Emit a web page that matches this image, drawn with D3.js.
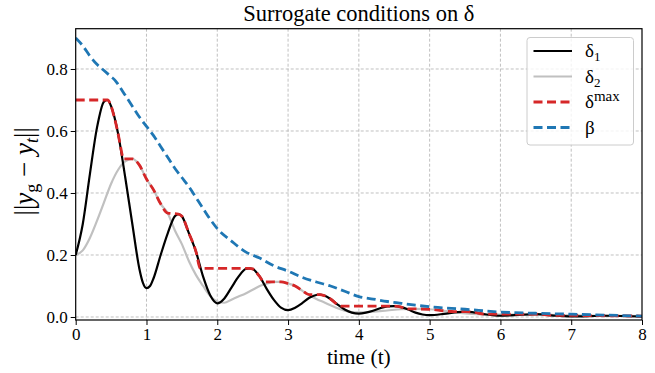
<!DOCTYPE html>
<html>
<head>
<meta charset="utf-8">
<script src="https://cdn.jsdelivr.net/npm/d3@7"></script>
<style>
  body { margin: 0; background: #fff; }
  svg { display: block; font-family: "Liberation Serif", "DejaVu Serif", serif; }
</style>
</head>
<body>
<svg id="chart" width="655" height="373"></svg>
<script>
// ---- data ----
const xTicks = [0, 1, 2, 3, 4, 5, 6, 7, 8];
const yTicks = [0.0, 0.2, 0.4, 0.6, 0.8];
const yTickLabels = ["0.0", "0.2", "0.4", "0.6", "0.8"];

const delta1T = [0,0.1,0.2,0.3,0.4,0.45,0.5,0.6,0.7,0.8,0.9,0.95,1.0,1.05,1.1,1.2,1.3,1.4,1.45,1.5,1.6,1.7,1.8,1.9,2.0,2.1,2.2,2.3,2.4,2.45,2.5,2.6,2.7,2.8,2.9,3.0,3.1,3.2,3.3,3.4,3.45,3.5,3.6,3.7,3.8,3.9,4.0,4.1,4.2,4.3,4.4,4.5,4.6,4.7,4.8,4.9,5.0,5.2,5.4,5.5,5.6,5.8,6.0,6.2,6.5,6.8,7.0,7.5,8.0];
const delta1V = [0.2,0.30,0.46,0.61,0.695,0.70,0.68,0.59,0.45,0.30,0.155,0.11,0.093,0.10,0.125,0.2,0.27,0.325,0.332,0.325,0.27,0.21,0.13,0.07,0.044,0.06,0.095,0.13,0.155,0.157,0.155,0.13,0.09,0.055,0.03,0.022,0.03,0.045,0.062,0.071,0.072,0.07,0.058,0.04,0.024,0.014,0.011,0.014,0.02,0.028,0.034,0.035,0.032,0.024,0.014,0.008,0.006,0.01,0.016,0.017,0.016,0.008,0.004,0.006,0.009,0.004,0.002,0.004,0.001];

const delta2T = [0,0.1,0.2,0.3,0.4,0.5,0.6,0.7,0.8,0.9,1.0,1.1,1.2,1.3,1.4,1.5,1.6,1.7,1.8,1.9,2.0,2.1,2.2,2.3,2.4,2.5,2.6,2.7,2.8,2.9,3.0,3.1,3.2,3.3,3.4,3.5,3.6,3.7,3.8,3.9,4.0,4.2,4.4,4.6,4.8,5.0,5.2,5.4,5.6,5.8,6.0,6.5,7.0,7.5,8.0];
const delta2V = [0.2,0.215,0.255,0.31,0.37,0.43,0.475,0.502,0.51,0.49,0.445,0.41,0.365,0.335,0.28,0.235,0.18,0.135,0.10,0.068,0.05,0.046,0.056,0.066,0.076,0.088,0.10,0.108,0.113,0.113,0.108,0.10,0.085,0.07,0.058,0.048,0.038,0.028,0.02,0.016,0.015,0.017,0.021,0.025,0.026,0.025,0.02,0.014,0.01,0.008,0.008,0.008,0.005,0.004,0.003];

const deltaMaxT = [0,0.43,0.45,0.5,0.55,0.6,0.65,0.67,0.8,0.9,1.0,1.1,1.2,1.3,1.45,1.5,1.6,1.7,1.76,2.45,2.5,2.6,2.66,2.85,2.9,3.0,3.1,3.2,3.3,3.45,3.5,3.6,3.7,3.75,4.5,4.6,4.65,4.8,5.0,5.2,5.35,5.5,5.6,5.8,6.5,6.8,7.0,7.5,8.0];
const deltaMaxV = [0.70,0.70,0.70,0.68,0.64,0.59,0.53,0.51,0.51,0.49,0.445,0.41,0.365,0.335,0.332,0.325,0.27,0.21,0.157,0.157,0.155,0.13,0.113,0.113,0.113,0.108,0.10,0.085,0.072,0.072,0.07,0.058,0.04,0.035,0.035,0.032,0.026,0.026,0.025,0.02,0.017,0.017,0.016,0.009,0.009,0.005,0.005,0.004,0.003];

const betaT = [0,0.1,0.2,0.3,0.4,0.5,0.55,0.6,0.7,0.8,0.9,1.0,1.1,1.2,1.3,1.4,1.5,1.6,1.7,1.8,1.9,2.0,2.2,2.4,2.6,2.8,3.0,3.2,3.4,3.6,3.8,4.0,4.2,4.4,4.6,4.8,5.0,5.5,6.0,6.5,7.0,7.5,8.0];
const betaV = [0.90,0.875,0.842,0.815,0.795,0.775,0.765,0.75,0.715,0.68,0.645,0.615,0.585,0.55,0.515,0.48,0.45,0.42,0.385,0.35,0.315,0.285,0.245,0.21,0.19,0.165,0.148,0.128,0.113,0.10,0.083,0.066,0.058,0.05,0.044,0.038,0.033,0.025,0.016,0.012,0.009,0.006,0.003];

const seriesNames = ["δ1", "δ2", "δmax", "β"];

// ---- layout ----
const svg = d3.select("#chart");
const L = 75.7, R = 642, T = 28.7, B = 320;
const x = d3.scaleLinear().domain([0, 8]).range([L, R]);
const y = d3.scaleLinear().domain([-0.0097, 0.93]).range([B, T]);

svg.append("defs").append("clipPath").attr("id", "clip")
  .append("rect").attr("x", L).attr("y", T).attr("width", R - L).attr("height", B - T);

// grid
const grid = svg.append("g");
grid.selectAll(".gx").data(xTicks.slice(1, -1)).join("line")
  .attr("x1", d => x(d)).attr("x2", d => x(d)).attr("y1", T).attr("y2", B)
  .attr("stroke", "#b0b0b0").attr("stroke-width", 0.8).attr("stroke-dasharray", "3,2");
grid.selectAll(".gy").data(yTicks).join("line")
  .attr("x1", L).attr("x2", R).attr("y1", d => y(d)).attr("y2", d => y(d))
  .attr("stroke", "#b0b0b0").attr("stroke-width", 0.8).attr("stroke-dasharray", "3,2");

// lines
const mk = (T_, V_) => T_.map((t, i) => [t, V_[i]]);
const line = d3.line().x(d => x(d[0])).y(d => y(d[1])).curve(d3.curveMonotoneX);
const plot = svg.append("g").attr("clip-path", "url(#clip)");
plot.append("path").datum(mk(delta2T, delta2V)).attr("d", line)
  .attr("fill", "none").attr("stroke", "#c0c0c0").attr("stroke-width", 2.2);
plot.append("path").datum(mk(delta1T, delta1V)).attr("d", line)
  .attr("fill", "none").attr("stroke", "#000").attr("stroke-width", 2.2);
plot.append("path").datum(mk(deltaMaxT, deltaMaxV)).attr("d", line)
  .attr("fill", "none").attr("stroke", "#d62728").attr("stroke-width", 2.8).attr("stroke-dasharray", "9,4.5");
plot.append("path").datum(mk(betaT, betaV)).attr("d", line)
  .attr("fill", "none").attr("stroke", "#1f77b4").attr("stroke-width", 2.8).attr("stroke-dasharray", "9,4.5");

// axes
const xAxis = d3.axisBottom(x).tickValues(xTicks).tickFormat(d3.format("d")).tickSize(5).tickPadding(3);
const yAxis = d3.axisLeft(y).tickValues(yTicks).tickFormat((d, i) => yTickLabels[i]).tickSize(5).tickPadding(3);
const gx = svg.append("g").attr("transform", `translate(0,${B})`).call(xAxis);
const gy = svg.append("g").attr("transform", `translate(${L},0)`).call(yAxis);
[gx, gy].forEach(g => {
  g.select(".domain").remove();
  g.selectAll("line").attr("stroke", "#000").attr("stroke-width", 1);
  g.selectAll("text").attr("fill", "#000").style("font-size", "17px")
    .style("font-family", '"Liberation Serif", serif');
});
svg.append("rect").attr("x", L).attr("y", T).attr("width", R - L).attr("height", B - T)
  .attr("fill", "none").attr("stroke", "#000").attr("stroke-width", 1.2);

// title
svg.append("text").attr("x", (L + R) / 2).attr("y", 21).attr("text-anchor", "middle")
  .style("font-size", "22.5px").text("Surrogate conditions on δ");

// x label
svg.append("text").attr("x", (L + R) / 2).attr("y", 364).attr("text-anchor", "middle")
  .style("font-size", "21.5px").text("time (t)");

// y label
const yl = svg.append("text").attr("transform", `translate(33,${(T + B) / 2 - 3}) rotate(-90)`)
  .attr("text-anchor", "middle").style("font-size", "27px");
yl.append("tspan").text("||");
yl.append("tspan").style("font-style", "italic").text("y");
yl.append("tspan").attr("dy", 5).style("font-size", "18px").text("g");
yl.append("tspan").attr("dy", -5).text(" − ");
yl.append("tspan").style("font-style", "italic").text("y");
yl.append("tspan").attr("dy", 5).style("font-size", "18px").style("font-style", "italic").text("t");
yl.append("tspan").attr("dy", -5).text("||");

// legend
const lg = svg.append("g");
lg.append("rect").attr("x", 527).attr("y", 37.5).attr("width", 106.5).attr("height", 107.5)
  .attr("rx", 3).attr("fill", "#fff").attr("fill-opacity", 0.8)
  .attr("stroke", "#cccccc").attr("stroke-width", 1);
const legItems = [
  {name: seriesNames[0], base: "δ", sub: "1", sup: null, color: "#000", w: 2.2, dash: null},
  {name: seriesNames[1], base: "δ", sub: "2", sup: null, color: "#c0c0c0", w: 2.2, dash: null},
  {name: seriesNames[2], base: "δ", sub: null, sup: "max", color: "#d62728", w: 2.8, dash: "9,4.5"},
  {name: seriesNames[3], base: "β", sub: null, sup: null, color: "#1f77b4", w: 2.8, dash: "9,4.5"}
];
const rowY = [51, 76.5, 102, 127.5];
legItems.forEach((it, i) => {
  const ly = rowY[i];
  const ln = lg.append("line").attr("x1", 533.5).attr("x2", 572).attr("y1", ly).attr("y2", ly)
    .attr("stroke", it.color).attr("stroke-width", it.w);
  if (it.dash) ln.attr("stroke-dasharray", it.dash);
  const t = lg.append("text").attr("x", 585).attr("y", ly + 6).style("font-size", "19px");
  t.append("tspan").text(it.base);
  if (it.sub) t.append("tspan").attr("dy", 4).style("font-size", "13px").text(it.sub);
  if (it.sup) t.append("tspan").attr("dy", -7).style("font-size", "15px").text(it.sup);
});
</script>
</body>
</html>
